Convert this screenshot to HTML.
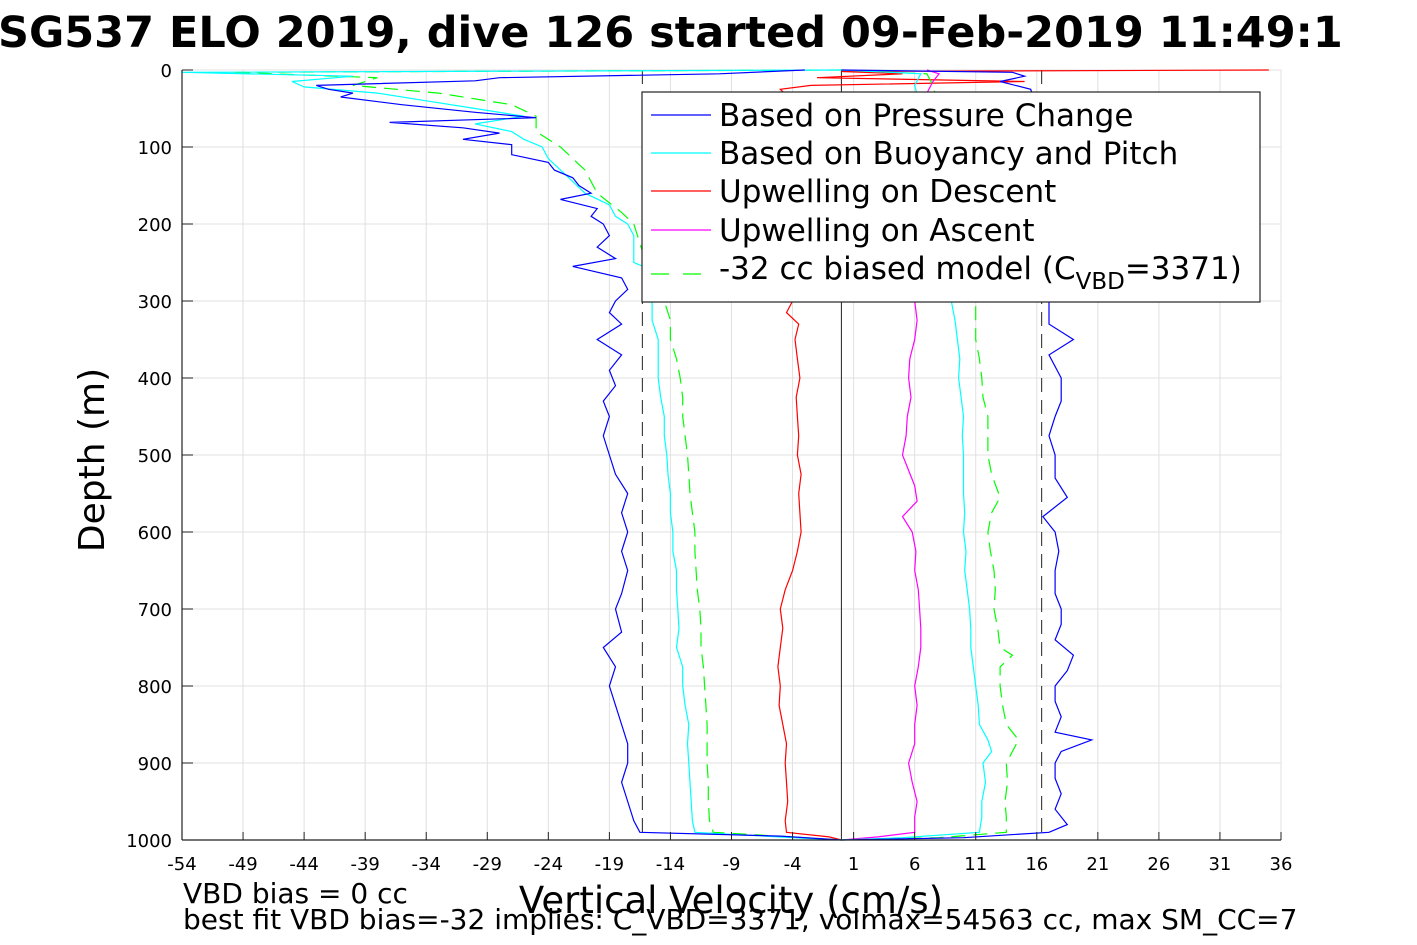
<!DOCTYPE html>
<html><head><meta charset="utf-8">
<style>
html,body{margin:0;padding:0;background:#fff;}
svg{display:block;font-family:"DejaVu Sans","Liberation Sans",sans-serif;}
</style></head>
<body>
<svg id="chart" width="1417" height="945" viewBox="0 0 1417 945" xmlns="http://www.w3.org/2000/svg">
<rect width="1417" height="945" fill="#fff"/>
<text x="-2" y="47" font-size="43" font-weight="bold">SG537 ELO 2019, dive 126 started 09-Feb-2019 11:49:1</text>
<g id="grid"></g>
<g id="refs"></g>
<g id="series"></g>
<g id="axes"></g>
<text transform="translate(104,460) rotate(-90)" text-anchor="middle" font-size="36">Depth (m)</text>
<text x="731" y="913" text-anchor="middle" font-size="37">Vertical Velocity (cm/s)</text>
<text x="183" y="903" font-size="28">VBD bias = 0 cc</text>
<text x="183" y="929" font-size="28">best fit VBD bias=-32 implies: C_VBD=3371, volmax=54563 cc, max SM_CC=7</text>
<g id="legend">
<rect x="642" y="92" width="618" height="210" fill="#fff" stroke="#222" stroke-width="1.2"/>
<line x1="651" y1="115" x2="711" y2="115" stroke="#00f" stroke-width="1.3"/>
<text x="719" y="126" font-size="31">Based on Pressure Change</text>
<line x1="651" y1="153" x2="711" y2="153" stroke="#0ff" stroke-width="1.3"/>
<text x="719" y="164" font-size="31">Based on Buoyancy and Pitch</text>
<line x1="651" y1="191" x2="711" y2="191" stroke="#f00" stroke-width="1.3"/>
<text x="719" y="202" font-size="31">Upwelling on Descent</text>
<line x1="651" y1="230" x2="711" y2="230" stroke="#f0f" stroke-width="1.3"/>
<text x="719" y="241" font-size="31">Upwelling on Ascent</text>
<line x1="651" y1="274" x2="711" y2="274" stroke="#0f0" stroke-width="1.3" stroke-dasharray="18,14"/>
<text x="719" y="279" font-size="31">-32 cc biased model (C<tspan font-size="23" dy="10">VBD</tspan><tspan dy="-10">=3371)</tspan></text>
</g>
</svg>
<script>
const xTicks=[-54,-49,-44,-39,-34,-29,-24,-19,-14,-9,-4,1,6,11,16,21,26,31,36];
const yTicks=[0,100,200,300,400,500,600,700,800,900,1000];
const refVals=[-16.3,0,16.4];
// [depth, velocity] pairs
const blueDesc=[[0,-3],[5,-10],[10,-28],[14,-30],[20,-43],[25,-42],[30,-40],[35,-41],[45,-36],[55,-30],[62,-25],[68,-37],[75,-31],[82,-28],[90,-31],[97,-27],[110,-27],[120,-24],[130,-23.5],[140,-22],[150,-21.5],[160,-20.5],[168,-23],[180,-20],[190,-20.5],[200,-19.5],[215,-19],[230,-20],[245,-18.5],[255,-22],[270,-18],[285,-17.5],[300,-18.5],[315,-19],[330,-18],[350,-20],[370,-18],[390,-19],[410,-18.5],[430,-19.5],[450,-19],[475,-19.5],[500,-19],[525,-18.5],[550,-17.5],[575,-18],[600,-17.5],[625,-18],[650,-17.5],[680,-18],[700,-18.5],[730,-18],[750,-19.5],[775,-18.5],[800,-19],[825,-18.5],[850,-18],[875,-17.5],[900,-17.5],[925,-18],[950,-17.5],[975,-17],[990,-16.5],[995,-5],[1000,0]];
const blueAsc=[[1000,0],[997,10],[990,17],[980,18.5],[960,17.5],[940,18],[920,17.5],[900,17.5],[885,18],[870,20.5],[860,17.5],[840,18],[820,17.5],[800,17.5],[780,18.5],[760,19],[740,17.5],[720,18],[700,18],[680,17.5],[650,17.5],[625,17.8],[600,17.5],[580,16.5],[555,18.5],[530,17.5],[500,17.5],[475,17],[450,17.5],[430,18],[400,18],[370,17],[350,19],[330,17],[300,17],[250,17],[200,16.5],[150,16.5],[100,16.5],[50,16],[25,15.5],[15,13],[8,15],[3,14],[0,0]];
const cyanDesc=[[0,0],[3,-54],[8,-40],[15,-45],[22,-44],[30,-38],[40,-34],[50,-30],[60,-26],[70,-30],[80,-27],[90,-26],[100,-24.5],[115,-24],[130,-23],[145,-22],[160,-21],[175,-19],[190,-18.5],[200,-17.5],[215,-17],[230,-17],[250,-17],[260,-15.5],[280,-16],[300,-15.5],[325,-15.5],[350,-15],[375,-15],[400,-15],[425,-14.8],[450,-14.5],[475,-14.5],[500,-14.3],[525,-14.2],[550,-14],[575,-14],[600,-13.8],[625,-13.8],[650,-13.5],[675,-13.5],[700,-13.4],[725,-13.3],[750,-13.5],[775,-13],[800,-13],[825,-12.8],[850,-12.5],[875,-12.6],[900,-12.5],[925,-12.4],[950,-12.3],[975,-12.2],[990,-12],[997,-4],[1000,0]];
const cyanAsc=[[1000,0],[997,5],[990,11.3],[970,11.5],[950,11.5],[925,11.8],[900,11.6],[885,12.3],[870,12],[850,11.3],[825,11.2],[800,11],[775,10.8],[750,10.6],[725,10.6],[700,10.5],[675,10.3],[650,10.1],[625,10.2],[600,10],[575,10.1],[550,10],[525,10],[500,10],[475,9.9],[450,10],[425,9.8],[400,9.6],[375,9.7],[350,9.5],[325,9.3],[300,9],[250,8],[200,8],[150,7.5],[100,7],[50,6.5],[20,6],[5,6.5],[0,0]];
const greenDesc=[[0,0],[3,-50],[10,-38],[20,-40],[30,-33],[45,-27],[60,-25],[80,-25],[100,-23],[130,-21],[160,-20],[185,-18],[200,-17],[225,-16.5],[250,-16],[275,-15],[300,-14.5],[325,-14],[350,-14],[375,-13.5],[400,-13.2],[425,-13],[450,-13],[475,-12.8],[500,-12.6],[525,-12.5],[550,-12.4],[575,-12.2],[600,-12],[625,-12],[650,-11.9],[675,-11.8],[700,-11.6],[725,-11.5],[750,-11.5],[775,-11.3],[800,-11.2],[825,-11.1],[850,-11],[875,-11],[900,-11],[925,-10.9],[950,-10.9],[975,-10.8],[990,-10.5],[997,-3],[1000,0]];
const greenAsc=[[1000,0],[997,8],[990,13.5],[970,13.5],[950,13.4],[925,13.6],[900,13.5],[885,14],[870,14.5],[850,13.5],[825,13.2],[800,13],[775,13],[760,14],[750,13],[725,12.8],[700,12.5],[675,12.6],[650,12.5],[625,12.2],[600,12],[575,12.3],[555,13],[525,12.3],[500,12],[475,12],[450,12],[425,11.6],[400,11.5],[375,11.3],[350,11],[325,11],[300,11],[250,10],[200,9.5],[150,9],[100,8.5],[50,8],[20,7.5],[5,7],[0,0]];
const redDesc=[[0,35],[2,0],[5,5],[10,-2],[15,15],[20,-2.5],[25,-5],[40,-4],[300,-4],[315,-4.5],[330,-3.5],[350,-3.8],[375,-3.6],[400,-3.4],[425,-3.7],[450,-3.6],[475,-3.5],[500,-3.6],[525,-3.3],[550,-3.5],[575,-3.4],[600,-3.3],[625,-3.6],[650,-4],[675,-4.6],[700,-5],[725,-4.8],[750,-5],[775,-5.2],[800,-5],[825,-5.1],[850,-4.8],[875,-4.5],[900,-4.6],[925,-4.5],[950,-4.4],[975,-4.6],[990,-4.5],[996,-1],[1000,0]];
const magAsc=[[1000,0],[996,3],[990,6],[970,6],[950,6.2],[925,5.8],[900,5.5],[875,6],[850,6],[825,6.2],[800,6],[775,6.3],[750,6.5],[725,6.5],[700,6.4],[675,6.3],[650,6],[625,6.1],[600,5.8],[580,5],[560,6.2],[540,6],[520,5.5],[500,5],[475,5.3],[450,5.4],[425,5.7],[400,5.5],[375,5.6],[350,6],[325,6.2],[300,6],[200,6],[100,6],[30,7],[15,7.5],[5,8],[0,7]];

const X0=182,X1=1281,Y0=70,Y1=840;
const xs=v=>X0+(v+54)/90*(X1-X0);
const ys=d=>Y0+d/1000*(Y1-Y0);
const NS='http://www.w3.org/2000/svg';
function mk(tag,attrs,parent){const e=document.createElementNS(NS,tag);for(const k in attrs)e.setAttribute(k,attrs[k]);parent.appendChild(e);return e;}
const grid=document.getElementById('grid'),axes=document.getElementById('axes'),refs=document.getElementById('refs'),ser=document.getElementById('series');
xTicks.forEach(t=>{
  const g=mk('line',{x1:xs(t),x2:xs(t),y1:Y0,y2:Y1,stroke:'#e0e0e0','stroke-width':1},grid);
  
  
  mk('line',{x1:xs(t),x2:xs(t),y1:Y1,y2:Y1-8,stroke:'#222'},axes);
  const tx=mk('text',{x:xs(t),y:Y1+30,'text-anchor':'middle','font-size':18},axes);
  
  
  tx.textContent=t;
});
yTicks.forEach(t=>{
  const g=mk('line',{x1:X0,x2:X1,y1:ys(t),y2:ys(t),stroke:'#e0e0e0','stroke-width':1},grid);
  
  
  mk('line',{x1:X0,x2:X0+11,y1:ys(t),y2:ys(t),stroke:'#222'},axes);
  const tx=mk('text',{x:X0-10,y:ys(t)+7,'text-anchor':'end','font-size':18},axes);
  
  
  tx.textContent=t;
});
mk('line',{x1:X0,x2:X0,y1:Y0,y2:Y1,stroke:'#222','stroke-width':1.2},axes);
mk('line',{x1:X0,x2:X1,y1:Y1,y2:Y1,stroke:'#222','stroke-width':1.2},axes);
refVals.forEach((v,i)=>{
  const l=mk('line',{x1:xs(v),x2:xs(v),y1:Y0,y2:Y1,stroke:'#222','stroke-width':1,'stroke-dasharray':i==1?'none':'14,8'},refs);
  
  
});
function line(data,color,name,dash){
  const p=mk('polyline',{points:data.map(([d,v])=>xs(v).toFixed(1)+','+ys(d).toFixed(1)).join(' '),fill:'none',stroke:color,'stroke-width':1.2},ser);
  if(dash)p.setAttribute('stroke-dasharray',dash);
  
  
}
line(redDesc,'#f00','upwelling-descent-line');
line(magAsc,'#f0f','upwelling-ascent-line');
line(greenDesc,'#0f0','biased-model-descent-line','14,8');
line(greenAsc,'#0f0','biased-model-ascent-line','14,8');
line(cyanDesc,'#0ff','buoyancy-descent-line');
line(cyanAsc,'#0ff','buoyancy-ascent-line');
line(blueDesc,'#00f','pressure-descent-line');
line(blueAsc,'#00f','pressure-ascent-line');
</script>
</body></html>
